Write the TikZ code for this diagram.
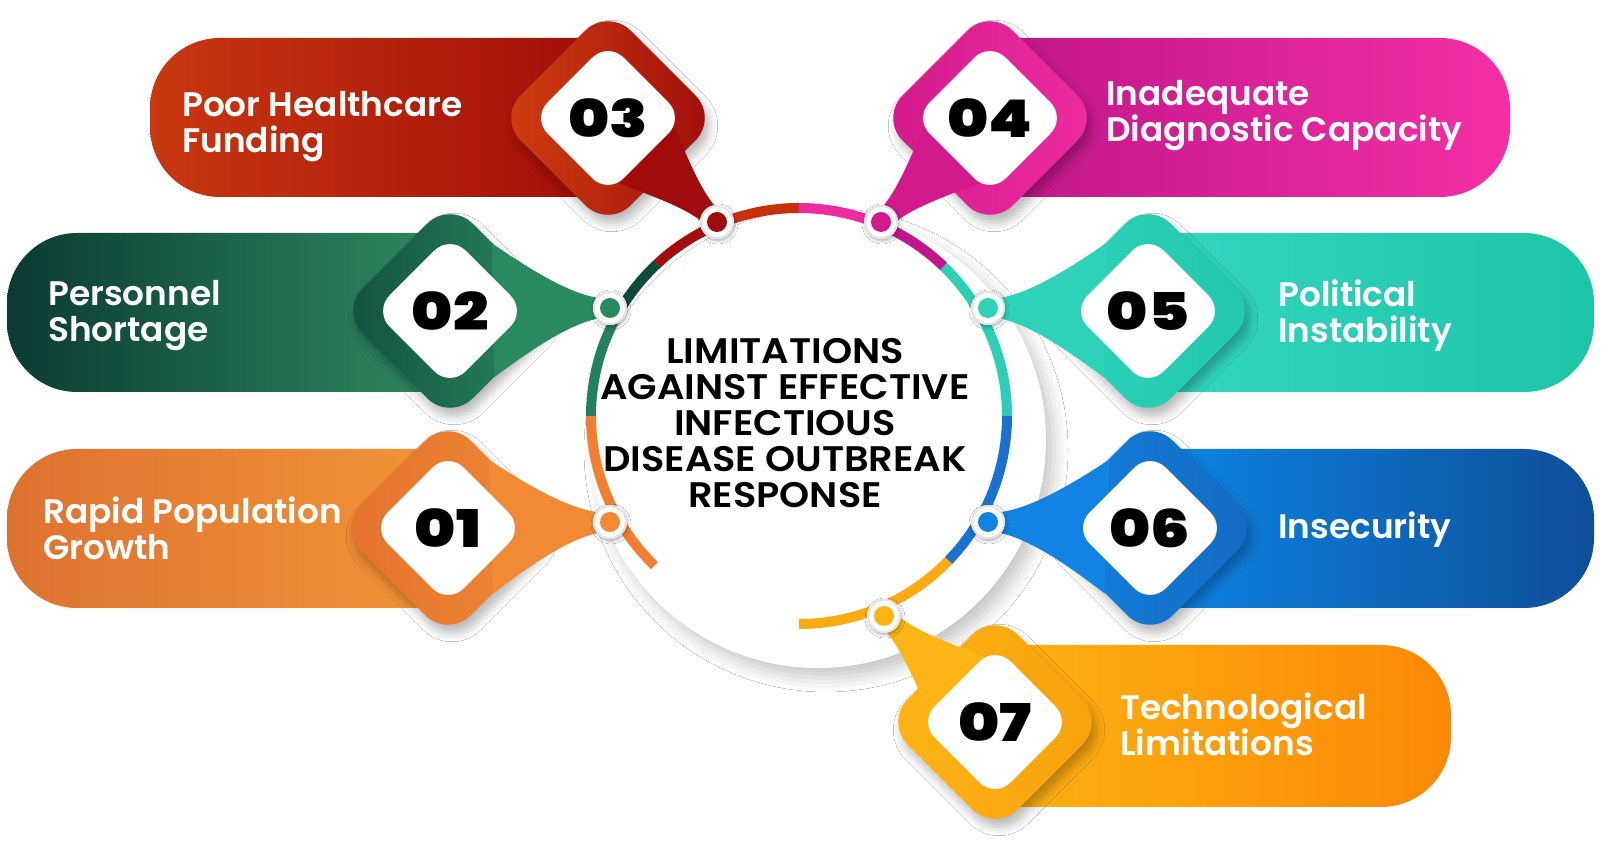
\documentclass[tikz,border=0pt]{standalone}
\usepackage{fontspec}
\usepackage{graphicx}
\setmainfont{Poppins}
\IfFontExistsTF{Poppins Black}
  {\newfontfamily\numfont{Poppins Black}\newcommand\numsel{\numfont}\newcommand\numscale{1.2}}
  {\newfontfamily\numfont{Poppins}[BoldFeatures={FakeBold=2}]\newcommand\numsel{\numfont\bfseries}\newcommand\numscale{1.3}}
\IfFontExistsTF{Poppins SemiBold}
  {\newfontfamily\ttlfont{Poppins SemiBold}[FakeStretch=1.08]\newcommand\ttlsel{\ttlfont}%
   \newfontfamily\lblfont{Poppins SemiBold}[FakeStretch=1.01]\newcommand\lblsel{\lblfont}}
  {\newfontfamily\ttlfont{Poppins}[FakeStretch=1.06]\newcommand\ttlsel{\ttlfont\bfseries}%
   \newfontfamily\lblfont{Poppins}\newcommand\lblsel{\lblfont\bfseries}}
\usetikzlibrary{calc,shadows.blur}

% item colours
\definecolor{oA}{HTML}{E2712C}\definecolor{oB}{HTML}{F08A34}
\definecolor{oL}{HTML}{DD7230}\definecolor{oR}{HTML}{F39436}
\definecolor{gA}{HTML}{12503F}\definecolor{gB}{HTML}{2A8A5F}
\definecolor{gL}{HTML}{0B3B33}\definecolor{gR}{HTML}{2E8C60}
\definecolor{rA}{HTML}{D0400F}\definecolor{rB}{HTML}{A00C0C}
\definecolor{rL}{HTML}{C8380F}\definecolor{rR}{HTML}{A20C0A}
\definecolor{kA}{HTML}{D21A8C}\definecolor{kB}{HTML}{F02CA2}
\definecolor{kL}{HTML}{BE1688}\definecolor{kR}{HTML}{F52FA6}
\definecolor{tA}{HTML}{2DD2B8}\definecolor{tB}{HTML}{22C9AE}
\definecolor{tL}{HTML}{33D6BE}\definecolor{tR}{HTML}{1DC5A8}
\definecolor{bA}{HTML}{1283E2}\definecolor{bB}{HTML}{1469C0}
\definecolor{bL}{HTML}{0D86E6}\definecolor{bR}{HTML}{0E4E98}
\definecolor{yA}{HTML}{FDB515}\definecolor{yB}{HTML}{F9A00C}
\definecolor{yL}{HTML}{FDB212}\definecolor{yR}{HTML}{FB8806}
% ring colours
\definecolor{ringteal}{HTML}{2CCFB5}
\definecolor{pinkdark}{HTML}{C4168C}
\definecolor{pinklight}{HTML}{EE2AA0}
\definecolor{redring}{HTML}{C8300C}
\definecolor{darkred}{HTML}{A50D0D}
\definecolor{darkgreen}{HTML}{0F4A3E}
\definecolor{greenring}{HTML}{23805C}
\definecolor{orangering}{HTML}{F07F32}
\definecolor{yellowring}{HTML}{FBAB12}
\definecolor{bluering}{HTML}{1A72D0}
\definecolor{dotedge}{HTML}{E4E4E4}

\tikzset{
  lbl/.style={anchor=west, align=left, text=white, inner sep=0pt,
    font=\lblsel\fontsize{34}{36}\selectfont},
  num/.style={text=black, inner sep=0pt,
    font=\numsel\fontsize{52}{52}\selectfont},
  ttl/.style={align=center, text=black, inner sep=0pt,
    font=\ttlsel\fontsize{35.5}{36}\selectfont},
  dshadow/.style={blur shadow={shadow xshift=4pt, shadow yshift=-8pt,
    shadow blur radius=9pt, shadow opacity=28}},
  discshadow/.style={blur shadow={shadow xshift=8pt, shadow yshift=-10pt,
    shadow blur radius=14pt, shadow opacity=22}},
  dotshadow/.style={blur shadow={shadow xshift=1pt, shadow yshift=-2pt,
    shadow blur radius=3pt, shadow opacity=30}},
  ringarc/.style={line width=10pt},
}

% rounded diamond: #1 centre, #2 half diagonal, #3 rounding, #4 options
\newcommand\mydiamond[4]{%
  \path[#4, rounded corners=#3] ($(#1)+(0,#2)$) -- ($(#1)+(#2,0)$)
    -- ($(#1)+(0,-#2)$) -- ($(#1)+(-#2,0)$) -- cycle;}
% pill rounded on the left: xL, xC, yB, yT, left colour, right colour
\newcommand\lpill[6]{%
  \path[left color=#5, right color=#6] (#2,#3) -- ({#1+70},#3)
    arc[start angle=-90, end angle=-180, radius=70] -- (#1,{#4-70})
    arc[start angle=180, end angle=90, radius=70] -- (#2,#4) -- cycle;}
% pill rounded on the right: xC, xR, yB, yT, left colour, right colour
\newcommand\rpill[6]{%
  \path[left color=#5, right color=#6] (#1,#3) -- ({#2-70},#3)
    arc[start angle=-90, end angle=0, radius=70] -- (#2,{#4-70})
    arc[start angle=0, end angle=90, radius=70] -- (#1,#4) -- cycle;}
% tapered tail: centre, angle, length, colour, x0, w0, cx, cy
\newcommand\mytail[8]{%
  \begin{scope}[shift={(#1)}, rotate=#2]
    \fill[#4] (#5,#6) .. controls (#7,#8) and ({#3-30},10) .. (#3,9)
      -- (#3,-9) .. controls ({#3-30},-10) and (#7,-#8) .. (#5,-#6) -- cycle;
  \end{scope}}

\begin{document}
\begin{tikzpicture}[x=1pt,y=1pt]
\useasboundingbox (0,0) rectangle (1601,854);
\fill[white] (0,0) rectangle (1601,854);

% ---------- central disc and ring ----------
\coordinate (D) at (818,414);
\fill[white, discshadow] (D) circle (228);
\coordinate (R) at (799,438);
\foreach \a/\b/\c in {0/46/ringteal, 46/67/pinkdark, 67/90/pinklight,
  90/113/redring, 113/133/darkred, 133/150/darkgreen, 150/180/greenring,
  180/226/orangering, 270/316/yellowring, 316/360/bluering}
  {\draw[ringarc, \c] ([shift={(\a:208)}]R) arc[start angle=\a, end angle=\b, radius=208];}

% ---------- coordinates ----------
\coordinate (d1) at (448,326);  \coordinate (p1) at (610,332);
\coordinate (d2) at (450,543);  \coordinate (p2) at (610,546);
\coordinate (d3) at (608,736);  \coordinate (p3) at (717,632);
\coordinate (d4) at (990,736);  \coordinate (p4) at (881,632);
\coordinate (d5) at (1148,543); \coordinate (p5) at (988,546);
\coordinate (d6) at (1150,326); \coordinate (p6) at (988,332);
\coordinate (d7) at (995,132);  \coordinate (p7) at (884,238);

% ---------- pills ----------
\lpill{150}{608}{657}{816}{rL}{rR}
\lpill{7}{450}{462}{621}{gL}{gR}
\lpill{7}{448}{246}{405}{oL}{oR}
\rpill{990}{1510}{657}{816}{kL}{kR}
\rpill{1148}{1594}{462}{621}{tL}{tR}
\rpill{1150}{1594}{246}{405}{bL}{bR}
\rpill{995}{1451}{47}{209}{yL}{yR}

% ---------- diamonds ----------
\mydiamond{d1}{110}{32}{left color=oA, right color=oB, dshadow}
\mydiamond{d2}{110}{32}{left color=gA, right color=gB, dshadow}
\mydiamond{d3}{110}{32}{left color=rA, right color=rB, dshadow}
\mydiamond{d4}{110}{32}{left color=kA, right color=kB, dshadow}
\mydiamond{d5}{110}{32}{left color=tA, right color=tB, dshadow}
\mydiamond{d6}{110}{32}{left color=bA, right color=bB, dshadow}
\mydiamond{d7}{110}{32}{left color=yA, right color=yB, dshadow}

% ---------- tails ----------
\mytail{d1}{2.1}{162}{oB}{43}{67}{95}{30}
\mytail{d2}{1.1}{160}{gB}{43}{67}{95}{30}
\mytail{d3}{-43.7}{151}{rB}{40}{45}{100}{20}
\mytail{d4}{-136.3}{151}{kA}{40}{45}{100}{20}
\mytail{d5}{178.9}{160}{tA}{43}{67}{95}{30}
\mytail{d6}{177.9}{162}{bA}{43}{67}{95}{30}
\mytail{d7}{136.3}{153}{yA}{40}{45}{100}{20}

% ---------- inner white diamonds ----------
\foreach \d in {d1,d2,d3,d4,d5,d6,d7}
  {\mydiamond{\d}{76}{22}{fill=white}}

% ---------- numbers ----------
\node[num] (n1) at (d1) {\scalebox{\numscale}[1]{01}};
\node[num] (n2) at (d2) {\scalebox{\numscale}[1]{02}};
\node[num] (n3) at (d3) {\scalebox{\numscale}[1]{03}};
\node[num] (n4) at (d4) {\scalebox{\numscale}[1]{04}};
\node[num] (n5) at (d5) {\scalebox{\numscale}[1]{05}};
\node[num] (n6) at (d6) {\scalebox{\numscale}[1]{06}};
\node[num] (n7) at (d7) {\scalebox{\numscale}[1]{07}};

% ---------- labels ----------
\node[lbl] (t3) at (182,727) {Poor Healthcare\\Funding};
\node[lbl] (t4) at (1106,738) {Inadequate\\Diagnostic Capacity};
\node[lbl] (t2) at (48,538) {Personnel\\Shortage};
\node[lbl] (t5) at (1278,538) {Political\\Instability};
\node[lbl] (t1) at (43,326) {Rapid Population\\Growth};
\node[lbl] (t6) at (1278,324) {Insecurity};
\node[lbl] (t7) at (1120,129.5) {Technological\\Limitations};

% ---------- dots on the ring ----------
\foreach \p/\c in {p1/oB, p2/gB, p3/rB, p4/kA, p5/tA, p6/bA, p7/yA} {
  \fill[white, dotshadow] (\p) circle (17);
  \draw[dotedge, line width=2pt] (\p) circle (16);
  \fill[\c] (\p) circle (10);
}

% ---------- title ----------
\node[ttl] (title) at (785,431)
  {LIMITATIONS\\AGAINST EFFECTIVE\\INFECTIOUS\\DISEASE OUTBREAK\\RESPONSE};
\end{tikzpicture}
\end{document}
